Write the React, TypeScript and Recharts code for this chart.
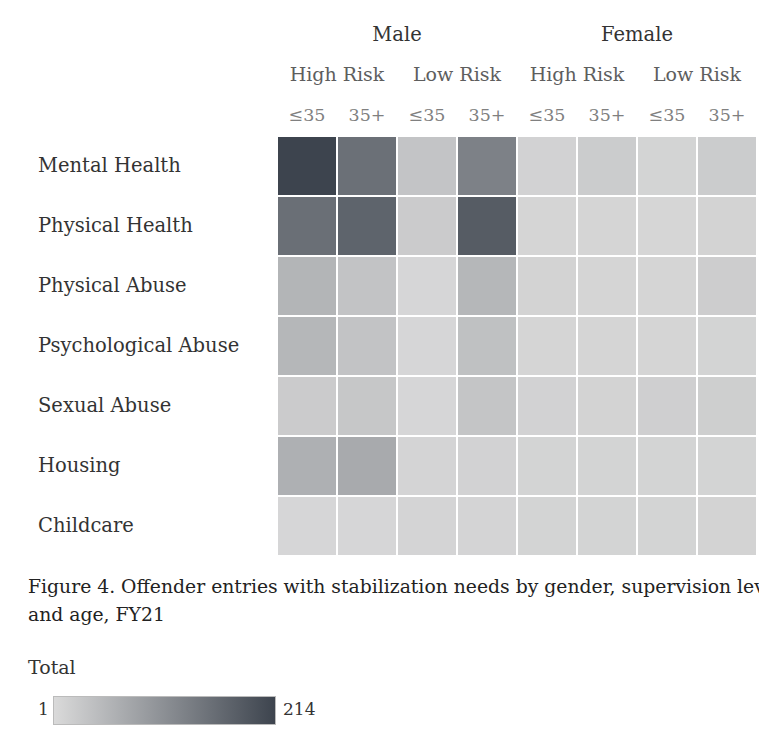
import React from "react";
import { ComposedChart, Bar, Line, XAxis, YAxis, Cell } from "recharts";

const needs = [
  "Mental Health",
  "Physical Health",
  "Physical Abuse",
  "Psychological Abuse",
  "Sexual Abuse",
  "Housing",
  "Childcare",
];
const genders = ["Male", "Female"];
const risks = ["High Risk", "Low Risk", "High Risk", "Low Risk"];
const ages = ["≤35", "35+", "≤35", "35+", "≤35", "35+", "≤35", "35+"];

// columns: M-HR-≤35, M-HR-35+, M-LR-≤35, M-LR-35+, F-HR-≤35, F-HR-35+, F-LR-≤35, F-LR-35+
const mentalHealth = [214, 152, 32, 127, 12, 21, 10, 21];
const physicalHealth = [153, 169, 22, 180, 8, 8, 7, 11];
const physicalAbuse = [54, 33, 6, 51, 11, 8, 8, 19];
const psychologicalAbuse = [51, 33, 6, 37, 8, 8, 8, 10];
const sexualAbuse = [22, 28, 6, 31, 12, 11, 16, 17];
const housing = [61, 69, 9, 12, 10, 10, 10, 10];
const childcare = [6, 6, 9, 9, 10, 10, 10, 11];

const valueRows = [mentalHealth, physicalHealth, physicalAbuse, psychologicalAbuse, sexualAbuse, housing, childcare];
const minVal = 1;
const maxVal = 214;

const LIGHT = [218, 218, 218];
const DARK = [61, 68, 78];

function colorFor(v: number) {
  const t = Math.max(0, Math.min(1, (v - minVal) / (maxVal - minVal)));
  const c = LIGHT.map((l, i) => Math.round(l + (DARK[i] - l) * t));
  return `rgb(${c[0]},${c[1]},${c[2]})`;
}

const chartData = needs.map((need) => {
  const row: Record<string, string | number> = { need };
  ages.forEach((_, i) => (row[`s${i}`] = 1));
  return row;
});

const serif = "'DejaVu Serif', serif";

const NeedTick = (props: any) => {
  const { y, payload } = props;
  return (
    <text x={38} y={y} dy={6} textAnchor="start" fill="#333" fontSize={19.5} fontFamily={serif}>
      {payload.value}
    </text>
  );
};

export default function App() {
  return (
    <div style={{ position: "absolute", left: 0, top: 0, width: 759, height: 745, background: "#fff", overflow: "hidden", fontFamily: serif }}>
      <ComposedChart
        width={759}
        height={557}
        data={chartData}
        layout="vertical"
        barCategoryGap={0}
        margin={{ top: 16, right: 2, left: 0, bottom: 1 }}
      >
        {/* top axes stack outward: age row nearest the cells, then risk, then gender */}
        <XAxis
          xAxisId="a_age"
          type="number"
          orientation="top"
          domain={[0, ages.length]}
          ticks={ages.map((_, i) => i + 0.5)}
          tickFormatter={(v: number) => ages[Math.floor(v)]}
          height={40}
          tickMargin={9}
          axisLine={false}
          tickLine={false}
          tick={{ fill: "#808080", fontSize: 17.5, fontFamily: serif }}
        />
        <XAxis
          xAxisId="b_risk"
          type="number"
          orientation="top"
          domain={[0, ages.length]}
          ticks={risks.map((_, i) => i * 2 + 1)}
          tickFormatter={(v: number) => risks[Math.floor(v / 2)]}
          height={40}
          tickMargin={9}
          axisLine={false}
          tickLine={false}
          tick={{ fill: "#5e5e5e", fontSize: 19, fontFamily: serif }}
        />
        <XAxis
          xAxisId="c_gender"
          type="number"
          orientation="top"
          domain={[0, ages.length]}
          ticks={genders.map((_, i) => i * 4 + 2)}
          tickFormatter={(v: number) => genders[Math.floor(v / 4)]}
          height={40}
          tickMargin={9}
          axisLine={false}
          tickLine={false}
          tick={{ fill: "#333", fontSize: 19.5, fontFamily: serif }}
        />
        <YAxis type="category" dataKey="need" width={277} axisLine={false} tickLine={false} tick={<NeedTick />} />
        {ages.map((_, i) => (
          <Bar key={i} xAxisId="a_age" dataKey={`s${i}`} stackId="grid" stroke="#fff" strokeWidth={2} isAnimationActive={false}>
            {valueRows.map((vals, j) => (
              <Cell key={j} fill={colorFor(vals[i])} />
            ))}
          </Bar>
        ))}
        {/* invisible series so the header axes get drawn */}
        <Line xAxisId="b_risk" dataKey="s0" stroke="none" dot={false} activeDot={false} isAnimationActive={false} />
        <Line xAxisId="c_gender" dataKey="s0" stroke="none" dot={false} activeDot={false} isAnimationActive={false} />
      </ComposedChart>

      <div style={{ position: "absolute", left: 28, top: 573, color: "#222", fontSize: 18.8, lineHeight: "28px", whiteSpace: "nowrap" }}>
        <div>Figure 4. Offender entries with stabilization needs by gender, supervision level,</div>
        <div>and age, FY21</div>
      </div>

      <div style={{ position: "absolute", left: 28, top: 656, color: "#333", fontSize: 19 }}>Total</div>
      <div style={{ position: "absolute", left: 38, top: 699, color: "#333", fontSize: 17 }}>{minVal}</div>
      <div
        style={{
          position: "absolute",
          left: 53,
          top: 696,
          width: 223,
          height: 29,
          border: "1px solid #bbb",
          boxSizing: "border-box",
          background: `linear-gradient(to right, ${colorFor(minVal)}, ${colorFor(maxVal)})`,
        }}
      />
      <div style={{ position: "absolute", left: 283, top: 699, color: "#333", fontSize: 17 }}>{maxVal}</div>
    </div>
  );
}
